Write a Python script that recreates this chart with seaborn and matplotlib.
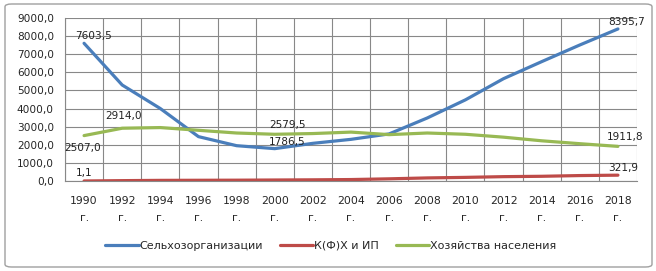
import matplotlib
matplotlib.use("Agg")
import matplotlib.pyplot as plt
from matplotlib.patches import FancyBboxPatch
from matplotlib.lines import Line2D
import seaborn as sns
import pandas as pd
import numpy as np

years = [1990, 1992, 1994, 1996, 1998, 2000, 2002, 2004, 2006, 2008, 2010, 2012, 2014, 2016, 2018]
selkhoz = [7603.5, 5300, 4000, 2450, 1950, 1786.5, 2080, 2300, 2600, 3480, 4480, 5650, 6590, 7510, 8395.7]
kfh = [1.1, 20, 35, 40, 45, 55, 65, 80, 120, 170, 200, 240, 260, 300, 321.9]
naselenie = [2507.0, 2914.0, 2950, 2800, 2650, 2579.5, 2620, 2700, 2560, 2650, 2580, 2420, 2220, 2060, 1911.8]
series_names = ["Сельхозорганизации", "К(Ф)Х и ИП", "Хозяйства населения"]
colors = ["#4A7EBB", "#BE4B48", "#98B954"]
tick_labels = [f"{y}\nг." for y in years]

sns.set_theme(style="white")
plt.rcParams['font.family'] = ['DejaVu Sans']

fig = plt.figure(figsize=(6.56, 2.71), dpi=100)
ax = fig.add_axes([65/656, 1-181/271, (637-65)/656, (181-18)/271])

idx = list(range(len(years)))
df = pd.DataFrame({
    "x": idx * 3,
    "value": selkhoz + kfh + naselenie,
    "series": [series_names[0]] * len(idx) + [series_names[1]] * len(idx) + [series_names[2]] * len(idx),
})
sns.lineplot(data=df, x="x", y="value", hue="series", palette=colors, linewidth=2.3,
             ax=ax, legend=False, sort=False)

ax.set_xlim(-0.5, len(idx) - 0.5)
ax.set_ylim(0, 9000)
ax.set_yticks(np.arange(0, 9001, 1000))
ax.set_yticklabels([f"{v:.1f}".replace(".", ",") for v in np.arange(0, 9001, 1000)], fontsize=7.6)
ax.set_xticks(idx)
ax.set_xticklabels(tick_labels, fontsize=7.8, linespacing=1.85)
ax.tick_params(axis="x", length=0, pad=11)
ax.tick_params(axis="y", length=0, pad=8)
ax.set_xticks(np.arange(-0.5, len(idx), 1), minor=True)
ax.tick_params(axis="x", which="minor", length=5, color="#888888", width=0.8)
ax.grid(True, axis="y", color="#888888", linewidth=0.8)
ax.grid(True, axis="x", which="minor", color="#888888", linewidth=0.8)
ax.set_xlabel("")
ax.set_ylabel("")
for s in ["top", "right"]:
    ax.spines[s].set_visible(False)
ax.spines["left"].set_color("#888888")
ax.spines["bottom"].set_color("#888888")
ax.spines["left"].set_linewidth(0.8)
ax.spines["bottom"].set_linewidth(0.8)

def fmt(v):
    return f"{v:.1f}".replace(".", ",")

labels = [
    (0, selkhoz[0], (7, 5)),
    (1, naselenie[1], (1, 9)),
    (0, naselenie[0], (-1, -9)),
    (0, kfh[0], (0, 6)),
    (5, selkhoz[5], (9, 5)),
    (5, naselenie[5], (9, 7)),
    (14, selkhoz[14], (6, 5)),
    (14, naselenie[14], (5, 7)),
    (14, kfh[14], (4, 5)),
]
for xi, v, off in labels:
    ax.annotate(fmt(v), (xi, v), xytext=off, textcoords="offset points",
                ha="center", va="center", fontsize=7.6, color="#222222")

handles = [Line2D([0], [0], color=c, linewidth=2.3) for c in colors]
fig.legend(handles, series_names, loc="center", bbox_to_anchor=(331/656, 1-246/271),
           ncol=3, frameon=False, fontsize=8.0, handlelength=3.0, handletextpad=0.1,
           columnspacing=1.5)

border = FancyBboxPatch((5/656, 4/271), 647/656, 263/271, boxstyle="round,pad=0,rounding_size=0.01",
                        transform=fig.transFigure, fill=False, edgecolor="#A0A0A0", linewidth=1.0)
fig.patches.append(border)

fig.savefig("out.png", dpi=100)
